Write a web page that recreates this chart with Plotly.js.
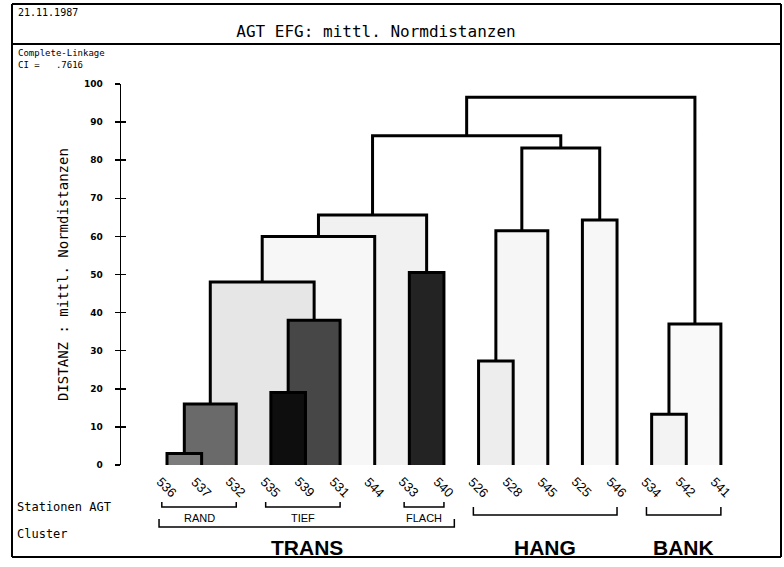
<!DOCTYPE html>
<html>
<head>
<meta charset="utf-8">
<script src="https://cdn.plot.ly/plotly-3.0.1.min.js"></script>
<style>html,body{margin:0;padding:0;background:#fff;}#chart{width:784px;height:567px;}</style>
</head>
<body>
<div id="chart"></div>
<script>
// ---------- data ----------
const leaves = ['536','537','532','535','539','531','544','533','540','526','528','545','525','546','534','542','541'];
// merges: node ids 0..16 are leaves, merge k creates node 17+k
const mergeLeft   = [0, 17, 3, 19, 18, 21, 7, 22, 9, 25, 12, 26, 24, 14, 30, 29];
const mergeRight  = [1, 2, 4, 5, 20, 6, 8, 23, 10, 11, 13, 27, 28, 15, 16, 31];
const mergeHeight = [3, 16, 19, 38, 48, 60, 50.5, 65.6, 27.3, 61.5, 64.3, 83.2, 86.4, 13.3, 37, 96.5];
const yTicks = [0,10,20,30,40,50,60,70,80,90,100];
// sub-cluster brackets (first leaf, last leaf)
const subNames = ['RAND','TIEF','FLACH'];
const subFirst = [0, 3, 7];
const subLast  = [2, 5, 8];
const clusterNames = ['TRANS','HANG','BANK'];
const clusterFirst = [0, 9, 14];
const clusterLast  = [8, 13, 16];

// ---------- styles ----------
const shade = ['#7c7c7c','#6a6a6a','#0e0e0e','#474747','#e6e6e6','#f7f7f7','#232323','#f1f1f1',
               '#ededed','#f6f6f6','#f7f7f7',null,null,'#f3f3f3','#f9f9f9',null];

// ---------- geometry helpers (pixel layout) ----------
const W = 784, H = 567, L = 121, R = 24, T = 84, B = 102;
const PW = W - L - R, PH = H - T - B;
const px = x => (x - L) / PW;
const py = y => (H - B - y) / PH;
const mono = 'DejaVu Sans Mono, monospace';
const sans = 'Liberation Sans, Arial, sans-serif';

// node x positions and heights
const nodeX = leaves.map((_, i) => i);
const nodeH = leaves.map(() => 0);
mergeLeft.forEach((a, k) => {
  const b = mergeRight[k];
  nodeX.push((nodeX[a] + nodeX[b]) / 2);
  nodeH.push(mergeHeight[k]);
});

const traces = [];
// shaded boxes, tallest first
const order = mergeHeight.map((h, k) => k).sort((p, q) => mergeHeight[q] - mergeHeight[p]);
order.forEach(k => {
  if (!shade[k]) return;
  const xa = nodeX[mergeLeft[k]], xb = nodeX[mergeRight[k]], h = mergeHeight[k];
  traces.push({
    type: 'scatter', mode: 'lines', x: [xa, xa, xb, xb, xa], y: [0, h, h, 0, 0],
    fill: 'toself', fillcolor: shade[k], line: {width: 0, color: 'rgba(0,0,0,0)'},
    hoverinfo: 'skip', showlegend: false, cliponaxis: false
  });
});
// dendrogram links
const lx = [], ly = [];
mergeLeft.forEach((a, k) => {
  const b = mergeRight[k], h = mergeHeight[k];
  lx.push(nodeX[a], nodeX[a], nodeX[b], nodeX[b], null);
  ly.push(nodeH[a], h, h, nodeH[b], null);
});
traces.push({type: 'scatter', mode: 'lines', x: lx, y: ly, line: {color: '#000', width: 3},
  hoverinfo: 'skip', showlegend: false, cliponaxis: false});
// dummy trace for overlay axis with crossing ticks
traces.push({type: 'scatter', mode: 'markers', x: [0], y: [0], yaxis: 'y2', marker: {opacity: 0},
  hoverinfo: 'skip', showlegend: false});

const ann = [];
const shapes = [];
// leaf labels
leaves.forEach((lab, i) => {
  ann.push({text: lab, x: i, xref: 'x', y: py(487), yref: 'paper', showarrow: false,
    textangle: 45, xanchor: 'center', yanchor: 'middle', font: {family: sans, size: 13, color: '#000'}});
});
function bracket(a, b, yLine, yTip) {
  shapes.push({type: 'path', xref: 'x', yref: 'paper',
    path: `M ${a} ${py(yTip)} L ${a} ${py(yLine)} L ${b} ${py(yLine)} L ${b} ${py(yTip)}`,
    line: {color: '#000', width: 1.5}});
}
subNames.forEach((n, j) => {
  const a = subFirst[j] - 0.15, b = subLast[j];
  bracket(a, b, 507, 502);
  ann.push({text: n, x: (a + b) / 2, xref: 'x', y: py(518), yref: 'paper', showarrow: false,
    xanchor: 'center', yanchor: 'middle', font: {family: sans, size: 11, color: '#000'}});
});
clusterNames.forEach((n, j) => {
  const sub = j === 0;
  const a = clusterFirst[j] - (sub ? 0.23 : 0.15), b = clusterLast[j] + (sub ? 0.3 : 0);
  if (sub) bracket(a, b, 527, 519); else bracket(a, b, 515, 507);
  ann.push({text: '<b>' + n + '</b>', x: (a + b) / 2, xref: 'x', y: py(547), yref: 'paper', showarrow: false,
    xanchor: 'center', yanchor: 'middle', font: {family: sans, size: 21, color: '#000'}});
});
// texts
const txt = (t, x, y, size, fam, anchor) => ann.push({text: t, x: px(x), y: py(y), xref: 'paper', yref: 'paper',
  showarrow: false, xanchor: anchor || 'left', yanchor: 'middle', font: {family: fam, size: size, color: '#000'}});
txt('21.11.1987', 16, 13, 10, mono);
txt('Complete-Linkage', 16, 53, 9, mono);
txt('CI =   .7616', 16, 65, 9, mono);
txt('Stationen AGT', 15, 507, 12, mono);
txt('Cluster', 15, 534, 12, mono);
ann.push({text: 'DISTANZ : mittl. Normdistanzen', x: px(63), y: py(275), xref: 'paper', yref: 'paper',
  showarrow: false, textangle: -90, xanchor: 'center', yanchor: 'middle', font: {family: mono, size: 14, color: '#000'}});

// frame
const fr = (x0, y0, x1, y1) => shapes.push({type: 'line', xref: 'paper', yref: 'paper',
  x0: px(x0), y0: py(y0), x1: px(x1), y1: py(y1), line: {color: '#000', width: 2}});
fr(12, 4, 781, 4);
fr(12, 44, 781, 44);
fr(12, 4, 12, 557);
fr(781, 4, 781, 557);
fr(12, 557, 781, 557);

const layout = {
  width: W, height: H,
  margin: {l: L, r: R, t: T, b: B, pad: 0},
  paper_bgcolor: '#fff', plot_bgcolor: '#fff',
  title: {text: 'AGT EFG: mittl. Normdistanzen', x: 376 / W, xref: 'container', y: 1 - 31 / H, yref: 'container',
    xanchor: 'center', yanchor: 'middle', font: {family: mono, size: 16, color: '#000'}},
  xaxis: {range: [-1.329, 17.13], visible: false, fixedrange: true},
  yaxis: {range: [0, 100], tickvals: yTicks, ticktext: yTicks.map(String), showgrid: false, zeroline: false,
    showline: true, linecolor: '#000', linewidth: 1.5, ticks: 'outside', ticklen: 5, tickwidth: 1.5, tickcolor: '#000',
    ticklabelstandoff: 10, tickfont: {family: 'DejaVu Sans, sans-serif', size: 9, color: '#000', weight: 'bold'}},
  yaxis2: {range: [0, 100], overlaying: 'y', side: 'left', tickvals: yTicks, showticklabels: false, showgrid: false,
    zeroline: false, showline: false, ticks: 'inside', ticklen: 5, tickwidth: 1.5, tickcolor: '#000'},
  showlegend: false,
  annotations: ann,
  shapes: shapes
};
Plotly.newPlot('chart', traces, layout, {displayModeBar: false, staticPlot: true});
</script>
</body>
</html>
